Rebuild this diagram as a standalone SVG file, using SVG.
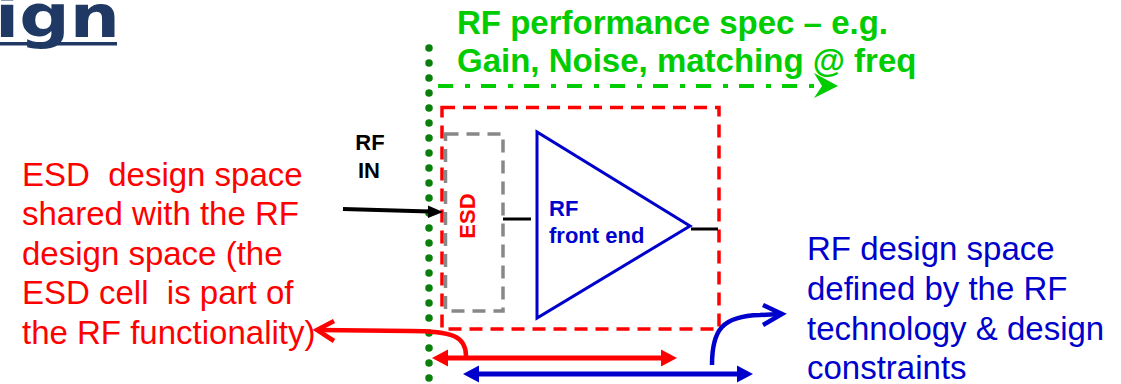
<svg xmlns="http://www.w3.org/2000/svg" width="1121" height="384" viewBox="0 0 1121 384">
<style>
.title{font-family:"DejaVu Sans",sans-serif;font-weight:bold;font-size:58px;fill:#1F3864}
.green{font-family:"Liberation Sans",Arial,sans-serif;font-weight:bold;font-size:33px;fill:#00CC00}
.red{font-family:"Liberation Sans",Arial,sans-serif;font-size:33px;fill:#FF0000}
.blue{font-family:"Liberation Sans",Arial,sans-serif;font-size:33px;fill:#0000CC}
.lbl{font-family:"Liberation Sans",Arial,sans-serif;font-weight:bold;font-size:22px}
</style>
<rect width="1121" height="384" fill="#FFFFFF"/>
<g id="title">
<text class="title" x="-5" y="37" textLength="125" lengthAdjust="spacingAndGlyphs">ign</text>
<rect x="0" y="42" width="117" height="3.5" fill="#1F3864"/>
</g>
<g id="rf-spec">
<text class="green" x="457" y="34">RF performance spec – e.g.</text>
<text class="green" x="457" y="72">Gain, Noise, matching @ freq</text>
</g>
<g id="boundary">
<line x1="429" y1="48" x2="429" y2="390" stroke="#0A7F0A" stroke-width="7.5" stroke-linecap="round" stroke-dasharray="0 15"/>
</g>
<g id="rf-design-box">
<rect x="442" y="107.5" width="277" height="221.5" fill="none" stroke="#FF0000" stroke-width="3.5" stroke-dasharray="13 8"/>
</g>
<g id="esd">
<rect x="445.5" y="134" width="57.5" height="177" fill="none" stroke="#888888" stroke-width="3.5" stroke-dasharray="13 8"/>
<text class="lbl" fill="#FF0000" text-anchor="middle" transform="translate(475,216) rotate(-90)">ESD</text>
</g>
<g id="rf-front-end">
<polygon points="537,132 537,318 690,226" fill="none" stroke="#0000CC" stroke-width="3"/>
<text class="lbl" fill="#0000CC" x="549" y="216">RF</text>
<text class="lbl" fill="#0000CC" x="549" y="243">front end</text>
</g>
<g id="rf-in">
<text class="lbl" fill="#000000" text-anchor="middle" x="370" y="150">RF</text>
<text class="lbl" fill="#000000" text-anchor="middle" x="369" y="178">IN</text>
</g>
<g id="esd-label">
<text class="red" x="22" y="186" xml:space="preserve">ESD  design space</text>
<text class="red" x="22" y="225">shared with the RF</text>
<text class="red" x="22" y="265">design space (the</text>
<text class="red" x="22" y="304" xml:space="preserve">ESD cell  is part of</text>
<text class="red" x="22" y="344">the RF functionality)</text>
</g>
<g id="rf-label">
<text class="blue" x="807" y="260">RF design space</text>
<text class="blue" x="807" y="300">defined by the RF</text>
<text class="blue" x="807" y="340">technology &amp; design</text>
<text class="blue" x="807" y="379">constraints</text>
</g>
<g id="connectors">
<line x1="503" y1="219" x2="531" y2="219" stroke="#000" stroke-width="3"/>
<line x1="691" y1="229" x2="718" y2="229" stroke="#000" stroke-width="3"/>
<line x1="343" y1="209" x2="430" y2="211.6" stroke="#000" stroke-width="4"/>
<polygon points="443,212 428,205.5 428,218" fill="#000"/>
<line x1="438" y1="86" x2="822" y2="86" stroke="#00CC00" stroke-width="4" stroke-dasharray="15 12 5 11"/>
<polygon points="838,86 814,73 822,86 814,98" fill="#00CC00"/>
<line x1="445" y1="358" x2="664" y2="358" stroke="#FF0000" stroke-width="5"/>
<polygon points="432,358 448,349.5 448,366.5" fill="#FF0000"/>
<polygon points="677,358 661,349.5 661,366.5" fill="#FF0000"/>
<line x1="476" y1="374" x2="740" y2="374" stroke="#0000CC" stroke-width="5"/>
<polygon points="463,374 479,365.5 479,382.5" fill="#0000CC"/>
<polygon points="753,374 737,365.5 737,382.5" fill="#0000CC"/>
<path d="M466,356 C466,336 452,331 410,331 L318,330" fill="none" stroke="#FF0000" stroke-width="4.5"/>
<polyline points="334,321 317,330 334,341" fill="none" stroke="#FF0000" stroke-width="4.5" stroke-linejoin="miter"/>
<path d="M712,365 C712,330 722,316 760,315 L780,314" fill="none" stroke="#0000CC" stroke-width="4.5"/>
<polyline points="763,305 782,314 763,325" fill="none" stroke="#0000CC" stroke-width="4.5" stroke-linejoin="miter"/>
</g>
</svg>
